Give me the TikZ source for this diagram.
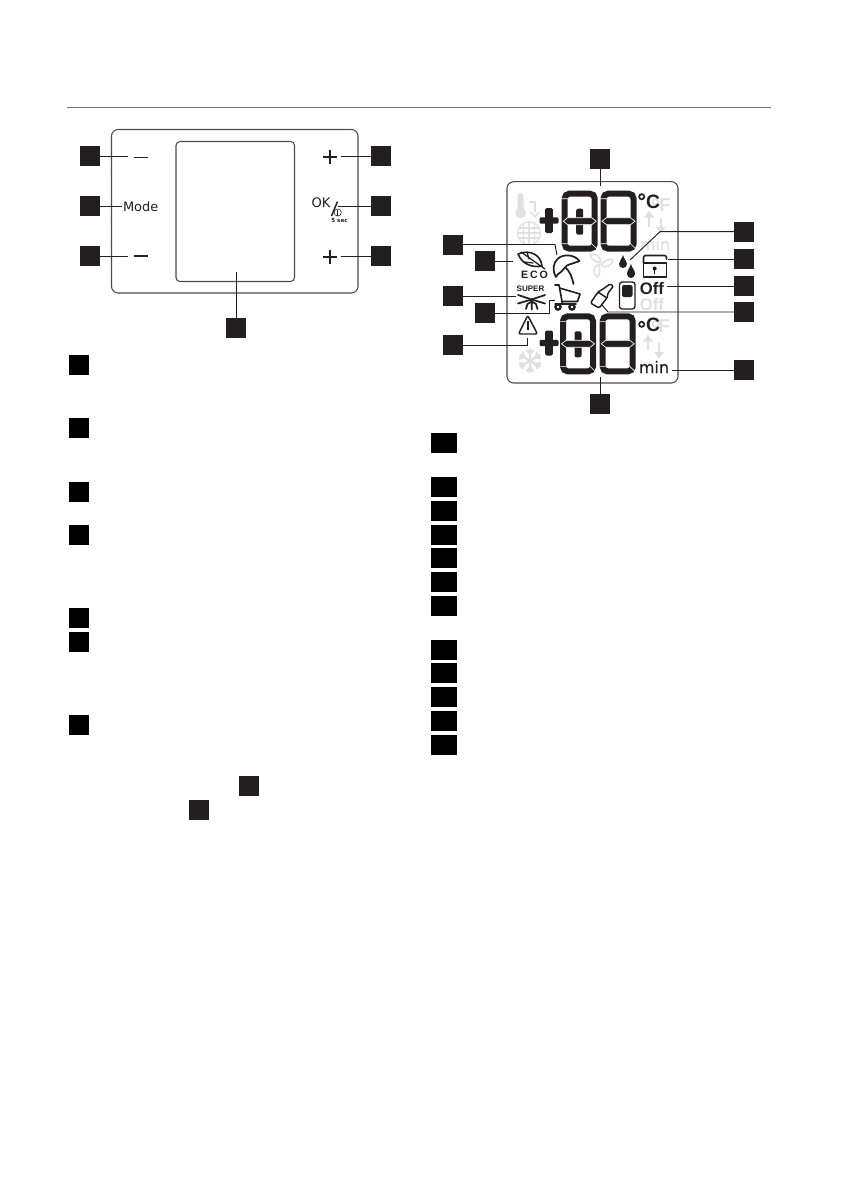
\documentclass[tikz,border=0pt]{standalone}
\usepackage{fontspec}
\setmainfont{DejaVu Sans}
\newfontfamily\libsans{Liberation Sans}
\newfontfamily\ecofont[LetterSpace=18]{Liberation Sans}
\newfontfamily\minfont[FakeBold=0.5]{DejaVu Sans}
\definecolor{ink}{HTML}{231F20}
\definecolor{ghost}{HTML}{E0E0E0}
\tikzset{
  x=0.75pt,y=-0.75pt,
  sq/.style={fill=ink,draw=none,minimum size=15pt,inner sep=0pt,outer sep=0pt},
  legsq/.style={fill=black,draw=none,minimum size=15pt,inner sep=0pt,outer sep=0pt},
  legwide/.style={fill=black,draw=none,minimum width=19.5pt,minimum height=15pt,inner sep=0pt,outer sep=0pt},
  leader/.style={draw=ink,line width=0.7pt},
  outline/.style={draw=ink!80,line width=0.8pt,rounded corners=5pt},
  icon/.style={draw=ink,line width=1.2pt,line join=round,line cap=round},
  faint/.style={draw=ghost,line width=1pt,line join=round},
  txt/.style={inner sep=0pt,outer sep=0pt,text=ink},
}
\newcommand{\lcddigit}[3]{%
  \begin{scope}[shift={(#1,#2)}]
    \draw[ink,line width=4.5pt,rounded corners=3.5pt] (3,3) rectangle (33,58);
    #3
    \fill[ink,draw=white,line width=0.5pt] (1.5,30.5)--(6,27)--(30,27)--(34.5,30.5)--(30,34)--(6,34)--cycle;
    \draw[white,line width=0.45pt] (-0.5,8)--(6.5,8) (-0.5,53)--(6.5,53) (29.5,52.5)--(36.5,59.5);
  \end{scope}}
\newcommand{\innerbar}{\fill[ink,rounded corners=1.5pt] (14.5,18) rectangle (21.5,44);}
\newcommand{\lcdplus}[2]{%
  \fill[ink,rounded corners=1pt] (#1-9.5,#2-3.2) rectangle (#1+9.5,#2+3.2);
  \fill[ink,rounded corners=1pt] (#1-3.8,#2-12.5) rectangle (#1+3.8,#2+12.5);}
\begin{document}
\begin{tikzpicture}
\useasboundingbox (0,0) rectangle (840,1190);
\fill[white] (0,0) rectangle (840,1190);

% top rule
\draw[draw=black!55,line width=1pt] (67,107.5)--(771,107.5);

% ---------- left panel
\draw[outline] (111.5,129.5) rectangle (358,293);
\draw[outline,rounded corners=3pt] (176,141.5) rectangle (294.5,281.5);

\node[sq] (a1) at (90,156) {};
\node[sq] (a2) at (90,206) {};
\node[sq] (a3) at (90,256) {};
\node[sq] (a4) at (381,156) {};
\node[sq] (a5) at (381,206) {};
\node[sq] (a6) at (381,256) {};
\node[sq] (a7) at (236,328) {};

\coordinate (la1) at (128,156);
\coordinate (la2) at (121.5,206);
\coordinate (la3) at (128,256);
\coordinate (la4) at (341,156);
\coordinate (la5) at (338,206);
\coordinate (la6) at (341,256);
\coordinate (la7) at (236,272);
\draw[leader] (a1.east)--(la1);
\draw[leader] (a2.east)--(la2);
\draw[leader] (a3.east)--(la3);
\draw[leader] (a4.west)--(la4);
\draw[leader] (a5.west)--(la5);
\draw[leader] (a6.west)--(la6);
\draw[leader] (a7.north)--(la7);

\draw[ink,line width=0.55pt] (134,157)--(148,157);
\draw[ink,line width=1.5pt] (134,256)--(148,256);
\draw[ink,line width=1.2pt] (323,157)--(337,157) (330,150)--(330,164);
\draw[ink,line width=1.5pt] (323,256.5)--(337,256.5) (330,249.5)--(330,263.5);
\node[txt,anchor=base west,font=\fontsize{9.7}{11}\selectfont] (mode) at (123,211.7) {Mode};
\node[txt,anchor=base west,font=\fontsize{9.8}{11}\selectfont] (ok) at (311.5,207.3) {OK};
\draw[ink,line width=1.1pt] (331.5,216)--(337.5,201.5);
\draw[ink,line width=0.4pt] (337.7,212.5) circle (3.6);
\draw[ink,line width=0.5pt] (337.7,209.5)--(337.7,215.5);
\node[txt,font=\fontsize{4.2}{5}\selectfont\bfseries] (fivesec) at (339.5,220.5) {5 sec};

% ---------- LCD panel
\draw[outline,draw=black!70] (507,181.7) rectangle (678,383);

% faint segments
\begin{scope}
  \fill[ghost,rounded corners=2.5pt] (517.5,193) rectangle (523.5,212);
  \fill[ghost] (520.7,213) circle (5.4);
  \draw[faint,line width=1.1pt] (529,202)--(535,202)--(535,212);
  \draw[faint,line width=1.1pt] (531,212)--(535,217)--(539,212);
  \begin{scope}
    \clip (529,233.3) circle (11.7);
    \draw[faint,line width=0.9pt] (517,228)--(541,228) (517,233)--(541,233) (517,238)--(541,238)
      (523.5,221)--(523.5,245) (529,221)--(529,245) (534.5,221)--(534.5,245);
  \end{scope}
  \draw[faint,line width=0.9pt] (529,233.3) circle (11.5);
  \foreach \a in {0,120,240}{
    \begin{scope}[shift={(600,264)},rotate=\a]
      \draw[faint,line width=1.1pt] (0,-1) .. controls (-6,-3) and (-10,-6) .. (-10,-9) .. controls (-5,-11) and (2,-8) .. (0,-1);
    \end{scope}}
  \node[txt,text=ghost,font=\fontsize{14}{14}\selectfont\libsans\bfseries,anchor=base] (fa) at (665,211) {F};
  \draw[ghost,line width=1.1pt] (655.7,202) circle (3.1);
  \draw[ghost,line width=1.8pt] (649,226.5)--(649,216);
  \fill[ghost] (644,217.5)--(649,211)--(654,217.5)--cycle;
  \draw[ghost,line width=1.8pt] (660.7,218)--(660.7,228);
  \fill[ghost] (655.7,227)--(660.7,233.5)--(665.7,227)--cycle;
  \node[txt,text=ghost,font=\fontsize{12}{12}\selectfont\minfont,anchor=base] (minfa) at (655,250) {min};
  \node[txt,text=ghost,font=\fontsize{12.5}{13}\selectfont\libsans\bfseries,anchor=base] (offfa) at (652,310) {Off};
  \node[txt,text=ghost,font=\fontsize{14}{14}\selectfont\libsans\bfseries,anchor=base] (fb) at (664,332) {F};
  \draw[ghost,line width=1.1pt] (655.7,324) circle (3.1);
  \draw[ghost,line width=1.8pt] (648,350)--(648,340);
  \fill[ghost] (643,341.5)--(648,335)--(653,341.5)--cycle;
  \draw[ghost,line width=1.8pt] (659,343)--(659,353);
  \fill[ghost] (654,352)--(659,358.5)--(664,352)--cycle;
  \foreach \a in {0,60,...,300}{
    \begin{scope}[shift={(530,360.7)},rotate=\a]
      \draw[ghost,line width=1.8pt] (0,0)--(0,-12) (-3.5,-10.5)--(0,-7)--(3.5,-10.5);
    \end{scope}}
\end{scope}

% digits
\lcdplus{549}{220.5}
\lcddigit{561.7}{190.7}{\innerbar}
\lcddigit{600.5}{190.7}{}
\lcdplus{549}{343}
\lcddigit{560}{313.3}{\innerbar}
\lcddigit{599.7}{313.3}{}

% ECO
\draw[icon] (518,254) .. controls (530,249) and (541,255) .. (542,266) .. controls (532,268) and (522,264) .. (518,254) -- cycle;
\draw[icon,line width=0.9pt] (521,252)--(545,269) (527,252)--(529,259) (533,263)--(524,262);
\node[txt,font=\fontsize{8}{8}\selectfont\ecofont\bfseries,anchor=base] (eco) at (534.5,278) {ECO};

% umbrella
\draw[icon,line width=1.3pt] (556,277) .. controls (552,270) and (553,263) .. (558,258.5) .. controls (563,254) and (574,254) .. (579.5,261) .. controls (575,263) and (571,263.5) .. (567,265.5) .. controls (565,268) and (562,270) .. (561,272) .. controls (558.5,273) and (557,275) .. (556,277) -- cycle;
\draw[icon,line width=1.3pt] (566,268) .. controls (570,272) and (572,277) .. (573.5,284);

% SUPER + flake
\node[txt,font=\fontsize{6}{6}\selectfont\libsans\bfseries] (super) at (530.5,289) {SUPER};
\draw[icon,line width=1.3pt] (518,295) -- (531.7,299.5) -- (545,295);
\draw[icon,line width=1.3pt] (518,303.5) -- (531.7,299.5) -- (545,303.5);
\draw[icon,line width=1.3pt] (531.7,299.5)--(531.7,309.5) (526,309)--(527.5,304)--(531.7,301.5)--(536,304)--(537.5,309);

% cart
\draw[icon,line width=1.2pt] (555,285)--(559,285)--(562.5,304)--(576,304);
\draw[icon,line width=1.2pt] (559.5,288)--(580,294)--(577.5,301.5)--(561.5,301.5);
\draw[icon,fill=ink,line width=0.6pt] (558,307) circle (3.4) (572,307) circle (3.4);
\fill[white] (558,307) circle (1.4) (572,307) circle (1.4);
\draw[icon,line width=1.2pt] (555,304)--(563,304);

% warning
\draw[icon,line width=1.1pt,rounded corners=1.5pt] (527.7,315.5)--(537.5,334)--(518.5,334)--cycle;
\draw[ink,line width=1.2pt] (527.7,321)--(527.7,330);

% drops
\fill[ink] (623,255) .. controls (624,259) and (627,261) .. (627,264) arc (0:180:4) .. controls (619,261) and (622,259) .. (623,255) -- cycle;
\fill[ink] (631,264) .. controls (632,268) and (635,270.5) .. (635,274) arc (0:180:4) .. controls (627,270.5) and (630,268) .. (631,264) -- cycle;

% lock
\draw[icon,line width=1.2pt,rounded corners=1.5pt] (643.5,263)--(643.5,255.5)--(666.5,255.5)--(666.5,259);
\draw[icon,line width=1.2pt] (643.5,263) rectangle (666.5,277);
\fill[ink] (654.7,268.5) circle (2);
\draw[ink,line width=0.9pt] (654.7,269)--(654.7,274);

% remote + brush
\draw[icon,line width=1pt,rounded corners=2pt] (619.5,282) rectangle (635,309);
\fill[ink,rounded corners=1.5pt] (622,285) rectangle (632.5,297);
\draw[icon,line width=1.1pt,rounded corners=1pt] (590.5,303)--(598,292)--(607,298)--(599,308)--cycle;
\draw[icon,line width=1.1pt,rounded corners=1pt] (598,292)--(603,289)--(610,284)--(613.5,286)--(608,293)--(607,298);

% black text right
\fill[ink] (641.7,196.7) circle (3.5);
\fill[white] (641.7,196.7) circle (1.8);
\node[txt,font=\fontsize{14.5}{15}\selectfont\libsans\bfseries,anchor=base] (ca) at (653,208) {C};
\fill[ink] (641.7,324.3) circle (3.5);
\fill[white] (641.7,324.3) circle (1.8);
\node[txt,font=\fontsize{14.5}{15}\selectfont\libsans\bfseries,anchor=base] (cb) at (653,331.5) {C};
\node[txt,font=\fontsize{12.5}{13}\selectfont\libsans\bfseries,anchor=base] (off) at (652,294) {Off};
\node[txt,font=\fontsize{12}{12}\selectfont\minfont,anchor=base] (minb) at (654,373) {min};

% LCD squares
\node[sq] (b1) at (600,159) {};
\node[sq] (b2) at (453,244.5) {};
\node[sq] (b3) at (485,261) {};
\node[sq] (b4) at (453,296) {};
\node[sq] (b5) at (485,313) {};
\node[sq] (b6) at (453,345) {};
\node[sq] (b7) at (600,404) {};
\node[sq] (b8) at (744,231.7) {};
\node[sq] (b9) at (744,259) {};
\node[sq] (b10) at (744,286) {};
\node[sq] (b11) at (744,312) {};
\node[sq] (b12) at (744,370) {};

\coordinate (lb1) at (600,186);
\coordinate (lb2a) at (555,244.5);
\coordinate (lb2) at (557,255);
\coordinate (lb3) at (513,261);
\coordinate (lb4) at (516,296);
\coordinate (lb5a) at (549,313);
\coordinate (lb5b) at (549,300.7);
\coordinate (lb5) at (555,300.7);
\coordinate (lb6a) at (527.7,345);
\coordinate (lb6) at (527.7,338);
\coordinate (lb7) at (600,376.7);
\coordinate (lb8a) at (660,231.7);
\coordinate (lb8) at (630,260);
\coordinate (lb9) at (668,259);
\coordinate (lb10) at (667,286);
\coordinate (lb11a) at (608,312);
\coordinate (lb11) at (602,305);
\coordinate (lb12) at (672,370);
\draw[leader] (b1.south)--(lb1);
\draw[leader] (b2.east)--(lb2a)--(lb2);
\draw[leader] (b3.east)--(lb3);
\draw[leader] (b4.east)--(lb4);
\draw[leader] (b5.east)--(lb5a)--(lb5b)--(lb5);
\draw[leader] (b6.east)--(lb6a)--(lb6);
\draw[leader] (b7.north)--(lb7);
\draw[leader] (b8.west)--(lb8a)--(lb8);
\draw[leader] (b9.west)--(lb9);
\draw[leader] (b10.west)--(lb10);
\draw[leader] (b11.west)--(lb11a)--(lb11);
\draw[leader] (b12.west)--(lb12);

% ---------- legends
\node[legsq] (c1) at (78.5,365) {};
\node[legsq] (c2) at (78.5,428) {};
\node[legsq] (c3) at (78.5,491.5) {};
\node[legsq] (c4) at (78.5,535) {};
\node[legsq] (c5) at (78.5,618) {};
\node[legsq] (c6) at (78.5,642) {};
\node[legsq] (c7) at (78.5,725) {};
\node[sq] (c8) at (249,786) {};
\node[sq] (c9) at (199,810) {};

\node[legwide] (d1) at (444,443) {};
\node[legwide] (d2) at (444,487) {};
\node[legwide] (d3) at (444,511) {};
\node[legwide] (d4) at (444,534.5) {};
\node[legwide] (d5) at (444,558) {};
\node[legwide] (d6) at (444,582) {};
\node[legwide] (d7) at (444,606) {};
\node[legwide] (d8) at (444,649.5) {};
\node[legwide] (d9) at (444,673) {};
\node[legwide] (d10) at (444,697) {};
\node[legwide] (d11) at (444,721) {};
\node[legwide] (d12) at (444,745) {};
\end{tikzpicture}
\end{document}
